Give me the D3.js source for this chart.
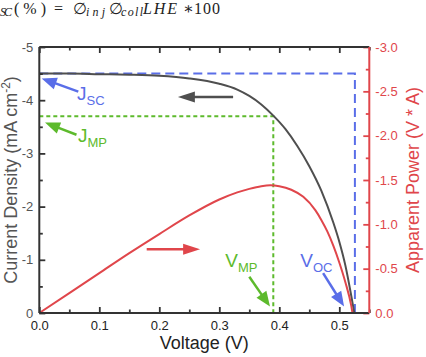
<!DOCTYPE html>
<html>
<head>
<meta charset="utf-8">
<script src="https://cdn.jsdelivr.net/npm/d3@7"></script>
<style>
  html, body { margin: 0; padding: 0; background: #fff; }
  svg { display: block; }
</style>
</head>
<body>
<svg id="chart" width="426" height="357"></svg>
<script>
// ---- data ----
const voltageJ = [0, 0.05, 0.10, 0.15, 0.20, 0.25, 0.30, 0.33, 0.35, 0.37, 0.39, 0.41, 0.43, 0.45, 0.47, 0.49, 0.50, 0.51, 0.52, 0.525];
const currentDensity = [-4.50, -4.50, -4.49, -4.48, -4.46, -4.41, -4.31, -4.20, -4.08, -3.92, -3.71, -3.46, -3.14, -2.76, -2.30, -1.70, -1.34, -0.90, -0.32, 0];
const voltageP = [0, 0.05, 0.10, 0.15, 0.20, 0.25, 0.30, 0.33, 0.35, 0.37, 0.385, 0.40, 0.42, 0.44, 0.46, 0.47, 0.48, 0.49, 0.50, 0.51, 0.52, 0.522];
const apparentPower = [0, -0.225, -0.45, -0.675, -0.89, -1.10, -1.28, -1.36, -1.40, -1.43, -1.44, -1.43, -1.39, -1.31, -1.16, -1.05, -0.92, -0.76, -0.57, -0.35, -0.08, 0];
const xTicks = [0, 0.1, 0.2, 0.3, 0.4, 0.5];
const yLeftTicks = [0, -1, -2, -3, -4, -5];
const yRightTicks = [0, -0.5, -1.0, -1.5, -2.0, -2.5, -3.0];
const jsc = -4.5, voc = 0.526, jmp = -3.7, vmp = 0.39;

// ---- layout ----
const svg = d3.select("#chart");
const L = 39.3, R = 369.3, T = 47, B = 313;
const x = d3.scaleLinear().domain([0, 0.55]).range([L, R]);
const yL = d3.scaleLinear().domain([0, -5]).range([B, T]);
const yR = d3.scaleLinear().domain([0, -3]).range([B, T]);

const dark = "#333333", grey = "#555555", red = "#e0464b", blue = "#5a6ee8", green = "#5dba2c", curveCol = "#4f4f4f";
const font = "'Liberation Sans', Arial, sans-serif";

svg.append("rect").attr("width", 426).attr("height", 357).attr("fill", "#fff");

// formula fragment at top (cropped in the original)
const formula = [
  { t: "SC", x: 0, w: 12, sub: true, it: true },
  { t: "(%)", x: 14, w: 32 },
  { t: "=", x: 54 },
  { t: "\u2205", x: 73 },
  { t: "inj", x: 86, w: 19, sub: true, it: true },
  { t: "\u2205", x: 109 },
  { t: "coll", x: 121, w: 22, sub: true, it: true },
  { t: "LHE", x: 143, w: 34, it: true },
  { t: "\u2217", x: 183 },
  { t: "100", x: 194, w: 26 }
];
svg.append("g").selectAll("text").data(formula).join("text")
  .attr("x", d => d.x).attr("y", d => d.sub ? 16 : 13.5)
  .attr("font-family", "'Liberation Serif', 'DejaVu Serif', serif")
  .attr("font-style", d => d.it ? "italic" : "normal")
  .attr("font-size", d => d.sub ? 12 : 16).attr("fill", "#222")
  .each(function (d) { if (d.w) d3.select(this).attr("textLength", d.w).attr("lengthAdjust", "spacing"); })
  .text(d => d.t);

// ---- reference lines ----
const g = svg.append("g");
g.append("path")
  .attr("d", d3.line()([[x(0), yL(jsc)], [x(voc), yL(jsc)], [x(voc), yL(0)]]))
  .attr("fill", "none").attr("stroke", blue).attr("stroke-width", 2).attr("stroke-dasharray", "9,5");
g.append("path")
  .attr("d", d3.line()([[x(0), yL(jmp)], [x(vmp), yL(jmp)], [x(vmp), yL(0)]]))
  .attr("fill", "none").attr("stroke", green).attr("stroke-width", 2).attr("stroke-dasharray", "4,3");

// ---- curves ----
const jvLine = d3.line().x((d, i) => x(voltageJ[i])).y(d => yL(d)).curve(d3.curveMonotoneX);
g.append("path").datum(currentDensity).attr("d", jvLine)
  .attr("fill", "none").attr("stroke", curveCol).attr("stroke-width", 2);
const pLine = d3.line().x((d, i) => x(voltageP[i])).y(d => yR(d)).curve(d3.curveMonotoneX);
g.append("path").datum(apparentPower).attr("d", pLine)
  .attr("fill", "none").attr("stroke", red).attr("stroke-width", 2);

// ---- axes ----
function styleAxis(sel, col, labelCol) {
  sel.select(".domain").remove();
  sel.selectAll(".tick line").attr("stroke", col).attr("stroke-width", 1.8);
  sel.selectAll(".tick text").attr("fill", labelCol).attr("font-family", font).attr("font-size", 13);
}
const minorX = d3.range(0.05, 0.551, 0.1);
const minorYL = d3.range(-0.5, -5.01, -1);
const minorYR = d3.range(-0.25, -3.01, -0.5);

// bottom
const ax = svg.append("g").attr("transform", `translate(0,${B})`)
  .call(d3.axisBottom(x).tickValues(xTicks).tickSize(-6).tickPadding(8).tickFormat(d => d.toFixed(1)));
styleAxis(ax, dark, "#222");
const axm = svg.append("g").attr("transform", `translate(0,${B})`)
  .call(d3.axisBottom(x).tickValues(minorX).tickSize(-3.5).tickFormat(""));
styleAxis(axm, dark, "#222");
// top
const at = svg.append("g").attr("transform", `translate(0,${T})`)
  .call(d3.axisTop(x).tickValues(xTicks).tickSize(-6).tickFormat(""));
styleAxis(at, dark, "#222");
const atm = svg.append("g").attr("transform", `translate(0,${T})`)
  .call(d3.axisTop(x).tickValues(minorX).tickSize(-3.5).tickFormat(""));
styleAxis(atm, dark, "#222");
// left
const al = svg.append("g").attr("transform", `translate(${L},0)`)
  .call(d3.axisLeft(yL).tickValues(yLeftTicks).tickSize(-6).tickPadding(6).tickFormat(d => String(d)));
styleAxis(al, dark, grey);
const alm = svg.append("g").attr("transform", `translate(${L},0)`)
  .call(d3.axisLeft(yL).tickValues(minorYL).tickSize(-3.5).tickFormat(""));
styleAxis(alm, dark, grey);
// right
const ar = svg.append("g").attr("transform", `translate(${R},0)`)
  .call(d3.axisRight(yR).tickValues(yRightTicks).tickSize(-6).tickPadding(6).tickFormat(d => d.toFixed(1)));
styleAxis(ar, red, red);
const arm = svg.append("g").attr("transform", `translate(${R},0)`)
  .call(d3.axisRight(yR).tickValues(minorYR).tickSize(-3.5).tickFormat(""));
styleAxis(arm, red, red);

// frame lines
svg.append("line").attr("x1", L).attr("x2", R).attr("y1", B).attr("y2", B).attr("stroke", dark).attr("stroke-width", 2);
svg.append("line").attr("x1", L).attr("x2", R).attr("y1", T).attr("y2", T).attr("stroke", dark).attr("stroke-width", 2);
svg.append("line").attr("x1", L).attr("x2", L).attr("y1", T).attr("y2", B).attr("stroke", dark).attr("stroke-width", 2);
svg.append("line").attr("x1", R).attr("x2", R).attr("y1", T).attr("y2", B).attr("stroke", red).attr("stroke-width", 2);

// ---- axis titles ----
svg.append("text").attr("x", (L + R) / 2).attr("y", 349).attr("text-anchor", "middle")
  .attr("font-family", font).attr("font-size", 18).attr("fill", "#222").text("Voltage (V)");
const yt = svg.append("text").attr("transform", `translate(17,${(T + B) / 2}) rotate(-90)`).attr("text-anchor", "middle")
  .attr("font-family", font).attr("font-size", 18).attr("fill", grey);
yt.append("tspan").text("Current Density (mA cm");
yt.append("tspan").attr("font-size", 12).attr("dy", -7).text("-2");
yt.append("tspan").attr("dy", 7).text(")");
svg.append("text").attr("transform", `translate(419,${(T + B) / 2}) rotate(-90)`).attr("text-anchor", "middle")
  .attr("font-family", font).attr("font-size", 18).attr("fill", red).text("Apparent Power (V * A)");

// ---- annotations (in data units) ----
function arrow(x1, y1, x2, y2, col, headLen, headW, width) {
  const dx = x2 - x1, dy = y2 - y1, len = Math.hypot(dx, dy);
  const ux = dx / len, uy = dy / len;
  const bx = x2 - ux * headLen, by = y2 - uy * headLen;
  svg.append("line").attr("x1", x1).attr("y1", y1).attr("x2", bx + ux).attr("y2", by + uy)
    .attr("stroke", col).attr("stroke-width", width);
  svg.append("path")
    .attr("d", `M${x2},${y2}L${bx - uy * headW},${by + ux * headW}L${bx + uy * headW},${by - ux * headW}Z`)
    .attr("fill", col);
}
arrow(x(0.323), yL(-4.06), x(0.231), yL(-4.06), curveCol, 17, 5.5, 2.5);
arrow(x(0.179), yR(-0.72), x(0.268), yR(-0.72), red, 17, 5.5, 2.5);
arrow(x(0.065), yL(-4.16), x(0.004), yL(-4.41), blue, 15, 6, 2.5);
arrow(x(0.062), yL(-3.35), x(0.0095), yL(-3.58), green, 15, 6, 2.5);
arrow(x(0.35), yL(-0.68), x(0.3845), yL(-0.12), green, 15, 6, 2.5);
arrow(x(0.473), yL(-0.75), x(0.508), yL(-0.12), blue, 15, 6, 2.5);

function subLabel(v, j, main, sub, col) {
  const t = svg.append("text").attr("x", x(v)).attr("y", yL(j))
    .attr("font-family", font).attr("font-size", 19).attr("fill", col);
  t.append("tspan").text(main);
  t.append("tspan").attr("font-size", 13).attr("dy", 5).text(sub);
}
subLabel(0.063, -4.0, "J", "SC", blue);
subLabel(0.0645, -3.22, "J", "MP", green);
subLabel(0.31, -0.87, "V", "MP", green);
subLabel(0.435, -0.87, "V", "OC", blue);
</script>
</body>
</html>
